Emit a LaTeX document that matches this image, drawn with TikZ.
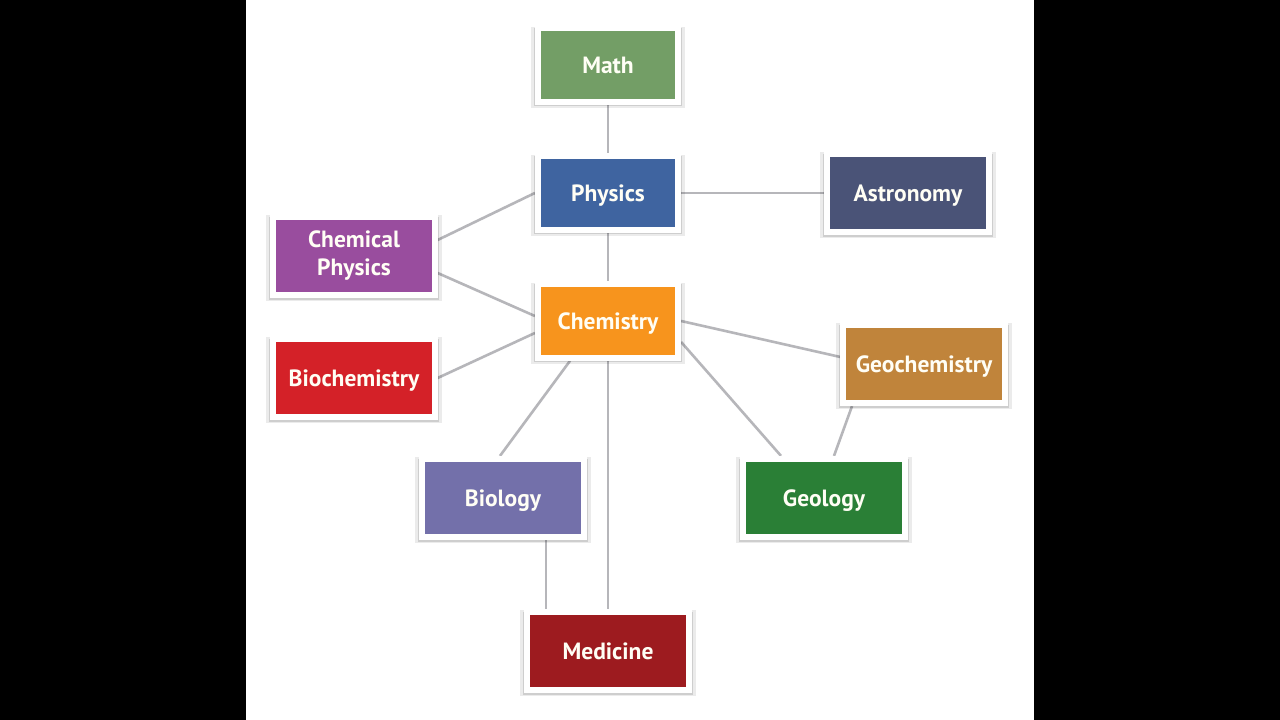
\documentclass[tikz,border=0pt]{standalone}
\usepackage{fontspec}
\setmainfont{PT Sans}
\usetikzlibrary{backgrounds,shadows}
\definecolor{mathc}{HTML}{739E66}
\definecolor{physc}{HTML}{3F64A0}
\definecolor{astroc}{HTML}{4A5377}
\definecolor{chemphysc}{HTML}{994D9E}
\definecolor{chemc}{HTML}{F7941D}
\definecolor{biochemc}{HTML}{D42128}
\definecolor{geochemc}{HTML}{C0843B}
\definecolor{bioc}{HTML}{7370AA}
\definecolor{geoc}{HTML}{2A7F36}
\definecolor{medc}{HTML}{9D1B1F}
\definecolor{linkc}{HTML}{B6B6BA}

\begin{document}
\begin{tikzpicture}[
  x=1pt, y=-1pt,
  box/.style={draw=white, line width=5.75pt, text=white!96!yellow,
              minimum width=140.5pt, minimum height=74pt, inner sep=2pt,
              text height=16.5pt, text depth=0pt,
              align=center, font=\fontsize{23.5}{28}\selectfont\bfseries,
              general shadow={fill=black, opacity=.08, shadow scale=1.09, shadow yshift=-2pt},
              general shadow={fill=black, opacity=.12, shadow scale=1.055, shadow yshift=-2pt},
              general shadow={fill=black, opacity=.20, shadow scale=1.025, shadow yshift=-1.5pt}},
  bigbox/.style={box, minimum width=161.5pt, minimum height=78.5pt},
  link/.style={draw=linkc, line width=2.6pt}
]
\useasboundingbox (0,0) rectangle (1280,720);

%% ===== boxes =====
\node[box, fill=mathc] (math) at (608,65) {Math};
\node[box, fill=physc] (phys) at (608,193) {Physics};
\node[box, fill=chemc] (chem) at (608,321) {Chemistry};
\node[bigbox, fill=astroc] (astro) at (908,193) {Astronomy};
\node[bigbox, fill=chemphysc, text height=, text depth=] (chemphys) at (354,256) {Chemical\\Physics};
\node[bigbox, fill=biochemc] (biochem) at (354,378) {Biochemistry};
\node[bigbox, fill=geochemc] (geochem) at (924,364) {Geochemistry};
\node[bigbox, fill=bioc] (bio) at (503,498) {Biology};
\node[bigbox, fill=geoc] (geo) at (824,498) {Geology};
\node[bigbox, fill=medc] (med) at (608,651) {Medicine};

%% ===== links =====
\begin{pgfonlayer}{background}
\fill[black] (0,0) rectangle (1280,720);
\fill[white] (246,0) rectangle (1034,720);
\draw[link] (math) -- (phys);
\draw[link] (phys) -- (astro);
\draw[link] (phys) -- (chem);
\draw[link] ([yshift=16pt]chemphys.east) -- (phys.west);
\draw[link] ([yshift=-17pt]chemphys.east) -- ([yshift=5pt]chem.west);
\draw[link] (biochem.east) -- ([yshift=-12pt]chem.west);
\draw[link] ([xshift=-38pt]chem.south) -- ([xshift=-3pt]bio.north);
\draw[link] (chem.south) -- (med.north);
\draw[link] ([xshift=43pt]bio.south) -- ([xshift=43pt]bio.south |- med.north);
\draw[link] (chem.east) -- ([yshift=7pt]geochem.west);
\draw[link] ([yshift=-21pt]chem.east) -- ([xshift=-43pt]geo.north);
\draw[link] ([xshift=-72pt]geochem.south) -- ([xshift=10pt]geo.north);
\end{pgfonlayer}
\end{tikzpicture}
\end{document}
